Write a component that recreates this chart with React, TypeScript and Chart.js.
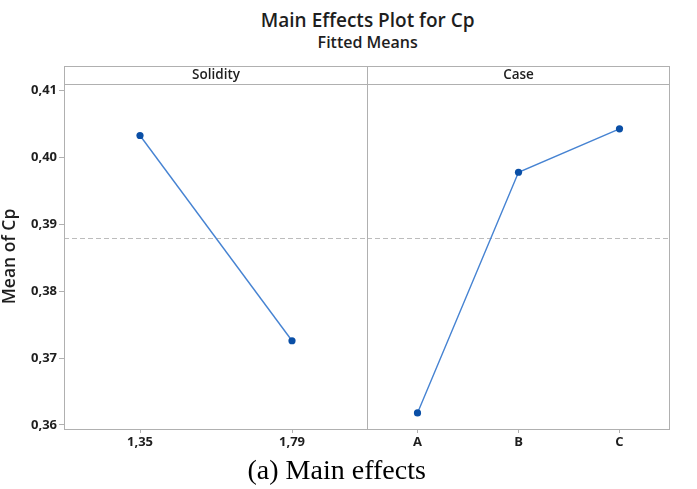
import React, { useEffect, useRef } from "react";
import { Chart, registerables } from "chart.js";

Chart.register(...registerables);

// ---- data ----
const solidityLevels = ["1,35", "1,79"];
const solidityMeans = [0.4033, 0.3726];
const caseLevels = ["A", "B", "C"];
const caseMeans = [0.3618, 0.3978, 0.4043];
const yTickValues = [0.36, 0.37, 0.38, 0.39, 0.4, 0.41];
const overallMean = 0.388;
const yMin = 0.3594;
const yMax = 0.411;
const panelTitles = ["Solidity", "Case"];

const FONT = "'Open Sans', 'DejaVu Sans', sans-serif";
const FRAME = "#b0b0b0";
const TEXT = "#1e1e1e";
const LINE = "#4683d2";
const POINT = "#0a4fa6";

const fmt = (v: number) => v.toFixed(2).replace(".", ",");

function panelPlugin(title: string) {
  return {
    id: "panelFrame",
    beforeDatasetsDraw(chart: any) {
      const { ctx, chartArea, scales } = chart;
      const y = scales.y.getPixelForValue(overallMean);
      ctx.save();
      ctx.strokeStyle = "#bcbcbc";
      ctx.lineWidth = 1;
      ctx.setLineDash([5, 3]);
      ctx.beginPath();
      ctx.moveTo(chartArea.left, Math.round(y) + 0.5);
      ctx.lineTo(chartArea.right, Math.round(y) + 0.5);
      ctx.stroke();
      ctx.restore();
    },
    afterDraw(chart: any) {
      const { ctx, chartArea } = chart;
      const { left, right, top, bottom } = chartArea;
      const stripTop = top - 18;
      ctx.save();
      ctx.strokeStyle = FRAME;
      ctx.lineWidth = 1;
      ctx.setLineDash([]);
      const l = Math.round(left) + 0.5;
      const r = Math.round(right) - 0.5;
      ctx.strokeRect(l, stripTop + 0.5, r - l, bottom - stripTop);
      ctx.beginPath();
      ctx.moveTo(l, top + 0.5);
      ctx.lineTo(r, top + 0.5);
      ctx.stroke();
      ctx.fillStyle = TEXT;
      ctx.font = `600 13.5px ${FONT}`;
      ctx.textAlign = "center";
      ctx.textBaseline = "middle";
      ctx.fillText(title, (left + right) / 2, stripTop + 9.5);
      ctx.restore();
    },
  };
}

function makeConfig(labels: string[], values: number[], title: string, showY: boolean, padRight: number): any {
  return {
    type: "line",
    data: {
      labels,
      datasets: [
        {
          data: values,
          borderColor: LINE,
          borderWidth: 1.4,
          pointBackgroundColor: POINT,
          pointBorderColor: POINT,
          pointRadius: 3.6,
          pointBorderWidth: 0,
          tension: 0,
        },
      ],
    },
    options: {
      responsive: false,
      animation: false,
      events: [],
      layout: { autoPadding: false, padding: { top: 84, right: padRight, bottom: 0, left: 0 } },
      plugins: { legend: { display: false }, tooltip: { enabled: false }, title: { display: false } },
      scales: {
        x: {
          type: "category",
          offset: true,
          border: { display: false },
          grid: { drawOnChartArea: false, drawTicks: true, tickLength: 4, color: FRAME, offset: false },
          ticks: { color: TEXT, font: { family: FONT, size: 13, weight: "700" }, padding: 1, maxRotation: 0 },
          afterFit: (s: any) => {
            s.height = 31;
          },
        },
        y: {
          type: "linear",
          display: showY,
          min: yMin,
          max: yMax,
          border: { display: false },
          grid: { drawOnChartArea: false, drawTicks: true, tickLength: 5, color: FRAME },
          afterBuildTicks: (s: any) => {
            s.ticks = yTickValues.map((v) => ({ value: v }));
          },
          ticks: {
            color: TEXT,
            font: { family: FONT, size: 13, weight: "700" },
            padding: 2,
            callback: (v: any) => fmt(Number(v)),
          },
          title: {
            display: true,
            text: "Mean of Cp",
            color: TEXT,
            font: { family: FONT, size: 17.5, weight: "600" },
            padding: { top: 0, bottom: 0 },
          },
          afterFit: (s: any) => {
            s.width = showY ? 64 : 0;
          },
        },
      },
    },
    plugins: [panelPlugin(title)],
  };
}

function Panel(props: { labels: string[]; values: number[]; title: string; showY: boolean; left: number; width: number; padRight: number }) {
  const ref = useRef<HTMLCanvasElement>(null);
  useEffect(() => {
    if (!ref.current) return;
    const chart = new Chart(ref.current, makeConfig(props.labels, props.values, props.title, props.showY, props.padRight));
    return () => chart.destroy();
  }, []);
  return (
    <canvas
      ref={ref}
      width={props.width}
      height={460}
      style={{ position: "absolute", left: props.left, top: 0, width: props.width, height: 460 }}
    />
  );
}

export default function App() {
  return (
    <div style={{ position: "fixed", left: 0, top: 0, width: 697, height: 489, background: "#fff", overflow: "hidden" }}>
      <div
        style={{
          position: "absolute", left: 0, width: 735.4, top: 10.5, textAlign: "center",
          fontFamily: FONT, fontWeight: 600, fontSize: 19, lineHeight: "19px", color: TEXT, whiteSpace: "nowrap",
        }}
      >
        Main Effects Plot for Cp
      </div>
      <div
        style={{
          position: "absolute", left: 0, width: 735.4, top: 33.5, textAlign: "center",
          fontFamily: FONT, fontWeight: 600, fontSize: 16, lineHeight: "16px", color: TEXT, whiteSpace: "nowrap",
        }}
      >
        Fitted Means
      </div>
      <Panel labels={solidityLevels} values={solidityMeans} title={panelTitles[0]} showY={true} left={0} width={368} padRight={0} />
      <Panel labels={caseLevels} values={caseMeans} title={panelTitles[1]} showY={false} left={367} width={305} padRight={2} />
      <div
        style={{
          position: "absolute", left: 0, width: 673.4, top: 455.5, textAlign: "center",
          fontFamily: "'Liberation Serif', 'Times New Roman', serif", fontSize: 28, lineHeight: "28px", color: "#000", whiteSpace: "nowrap",
        }}
      >
        (a) Main effects
      </div>
    </div>
  );
}
